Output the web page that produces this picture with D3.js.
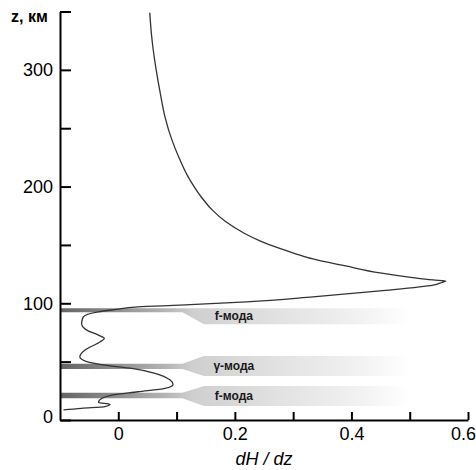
<!DOCTYPE html>
<html>
<head>
<meta charset="utf-8">
<script src="https://cdn.jsdelivr.net/npm/d3@7"></script>
<style>
    body { margin: 0; background: #fff; }
    #chart { width: 476px; height: 470px; }
    .axis path, .axis line { stroke: #000; stroke-width: 2; }
    .axis text { font-family: 'Liberation Sans', Arial, sans-serif; font-size: 18px; fill: #000; }
</style>
</head>
<body>
<div id="chart"></div>
<script>
//Datos: altura z (км) y dH/dz
let zValues = [349, 330, 317, 300, 280, 260, 240, 225, 210, 200, 190, 180, 170, 160, 153, 147, 142, 138, 132, 126, 122, 120, 119, 118, 115.5, 110.6, 105.5, 101.2, 98.4, 97, 94.7, 92.7, 88.4, 82.7, 77, 72.7, 69.9, 67, 60, 54.2, 50, 47, 44.2, 40, 34.2, 30.5, 27.1, 24.2, 21.4, 18.6, 15.1, 13.4, 11.4, 10, 8.6];
let dHdz = [0.054, 0.057, 0.060, 0.065, 0.072, 0.080, 0.092, 0.104, 0.118, 0.130, 0.144, 0.161, 0.184, 0.216, 0.245, 0.277, 0.307, 0.334, 0.390, 0.449, 0.505, 0.540, 0.562, 0.556, 0.540, 0.449, 0.334, 0.220, 0.106, 0.034, -0.004, -0.034, -0.060, -0.063, -0.054, -0.034, -0.024, -0.031, -0.057, -0.066, -0.054, -0.023, 0.023, 0.063, 0.089, 0.094, 0.080, 0.034, -0.011, -0.028, -0.034, -0.014, -0.023, -0.063, -0.094];

//Моды: подписи и диапазоны высот (км)
let modeLabels = ['f-мода', 'γ-мода', 'f-мода'];
let modeCoreTop = [95.8, 48.3, 23.4];
let modeCoreBottom = [92.4, 43.6, 18.6];
let modeSpanTop = [95.8, 54.8, 29.1];
let modeSpanBottom = [82.1, 37.7, 12.0];

//Ejes
let zTicks = [0, 50, 100, 150, 200, 250, 300, 350];
let zLabels = [0, 100, 200, 300];
let xTicks = [0, 0.1, 0.2, 0.3, 0.4, 0.5, 0.6];
let xLabels = [0, 0.2, 0.4, 0.6];

let margin = {top: 11.5, right: 8, bottom: 50, left: 60},
    width = 476 - margin.left - margin.right,
    height = 470 - margin.top - margin.bottom;

let svg = d3.select('#chart')
    .append('svg')
        .attr('width', 476)
        .attr('height', 470)
    .append('g')
        .attr('transform', 'translate(' + margin.left + ',' + margin.top + ')');

let x = d3.scaleLinear()
    .domain([-0.1, 0.6])
    .range([0, width]);

let y = d3.scaleLinear()
    .domain([0, 350])
    .range([height, 0]);

//Градиент полос
let grad = svg.append('defs')
    .append('linearGradient')
    .attr('id', 'bandGrad')
    .attr('gradientUnits', 'userSpaceOnUse')
    .attr('x1', x(-0.1)).attr('x2', x(0.5))
    .attr('y1', 0).attr('y2', 0);

[[0, '#646464'], [0.3, '#b4b4b4'], [0.38, '#cfcfcf'], [0.6, '#e0e0e0'], [0.85, '#f1f1f1'], [1, '#ffffff']].forEach(function(s) {
    grad.append('stop').attr('offset', s[0]).attr('stop-color', s[1]);
});

let modes = modeLabels.map(function(label, i) {
    return {label: label, coreTop: modeCoreTop[i], coreBottom: modeCoreBottom[i], spanTop: modeSpanTop[i], spanBottom: modeSpanBottom[i]};
});

let xFunnel0 = 0.11, xFunnel1 = 0.147, xEnd = 0.5;

svg.append('g')
    .selectAll('path')
    .data(modes)
    .enter()
    .append('path')
    .attr('fill', 'url(#bandGrad)')
    .attr('d', function(d) {
        return 'M' + x(-0.1) + ',' + y(d.coreTop) +
            'L' + x(xFunnel0) + ',' + y(d.coreTop) +
            'L' + x(xFunnel1) + ',' + y(d.spanTop) +
            'L' + x(xEnd) + ',' + y(d.spanTop) +
            'L' + x(xEnd) + ',' + y(d.spanBottom) +
            'L' + x(xFunnel1) + ',' + y(d.spanBottom) +
            'L' + x(xFunnel0) + ',' + y(d.coreBottom) +
            'L' + x(-0.1) + ',' + y(d.coreBottom) + 'Z';
    });

svg.append('g')
    .selectAll('text')
    .data(modes)
    .enter()
    .append('text')
    .attr('x', x(0.2) - 1)
    .attr('y', function(d) { return (y(d.spanTop) + y(d.spanBottom)) / 2; })
    .attr('dy', '0.35em')
    .attr('text-anchor', 'middle')
    .style('font-family', "'Liberation Sans', Arial, sans-serif")
    .style('font-size', '12px')
    .style('font-weight', '700')
    .style('fill', '#1a1a1a')
    .text(function(d) { return d.label; });

//Кривая
let points = zValues.map(function(z, i) { return [dHdz[i], z]; });

svg.append('path')
    .datum(points)
    .attr('fill', 'none')
    .attr('stroke', '#333')
    .attr('stroke-width', 1.3)
    .attr('d', d3.line()
        .x(function(d) { return x(d[0]); })
        .y(function(d) { return y(d[1]); })
        .curve(d3.curveMonotoneY));

//Оси
svg.append('g')
    .attr('class', 'axis')
    .call(d3.axisLeft(y)
        .tickValues(zTicks)
        .tickSize(-11)
        .tickSizeOuter(0)
        .tickPadding(7)
        .tickFormat(function(d) { return zLabels.indexOf(d) >= 0 ? d : ''; }))
    .call(function(g) {
        g.selectAll('.tick text').attr('dy', function(d) { return d == 0 ? '0.15em' : '0.32em'; });
    });

svg.append('g')
    .attr('class', 'axis')
    .attr('transform', 'translate(0,' + height + ')')
    .call(d3.axisBottom(x)
        .tickValues(xTicks)
        .tickSize(-8)
        .tickSizeOuter(0)
        .tickPadding(7)
        .tickFormat(function(d) { return xLabels.indexOf(d) >= 0 ? d3.format('~g')(d) : ''; }))
    .call(function(g) {
        g.selectAll('.tick text').attr('dx', function(d) { return d == 0.6 ? '-5' : '0'; });
    });

svg.append('text')
    .attr('x', -49)
    .attr('y', 10)
    .style('font-family', "'Liberation Sans', Arial, sans-serif")
    .style('font-size', '16px')
    .style('font-weight', '700')
    .text('z, км');

svg.append('text')
    .attr('x', width / 2)
    .attr('y', height + 45)
    .attr('text-anchor', 'middle')
    .style('font-family', "'Liberation Sans', Arial, sans-serif")
    .style('font-size', '18px')
    .style('font-style', 'italic')
    .text('dH / dz');
</script>
</body>
</html>
